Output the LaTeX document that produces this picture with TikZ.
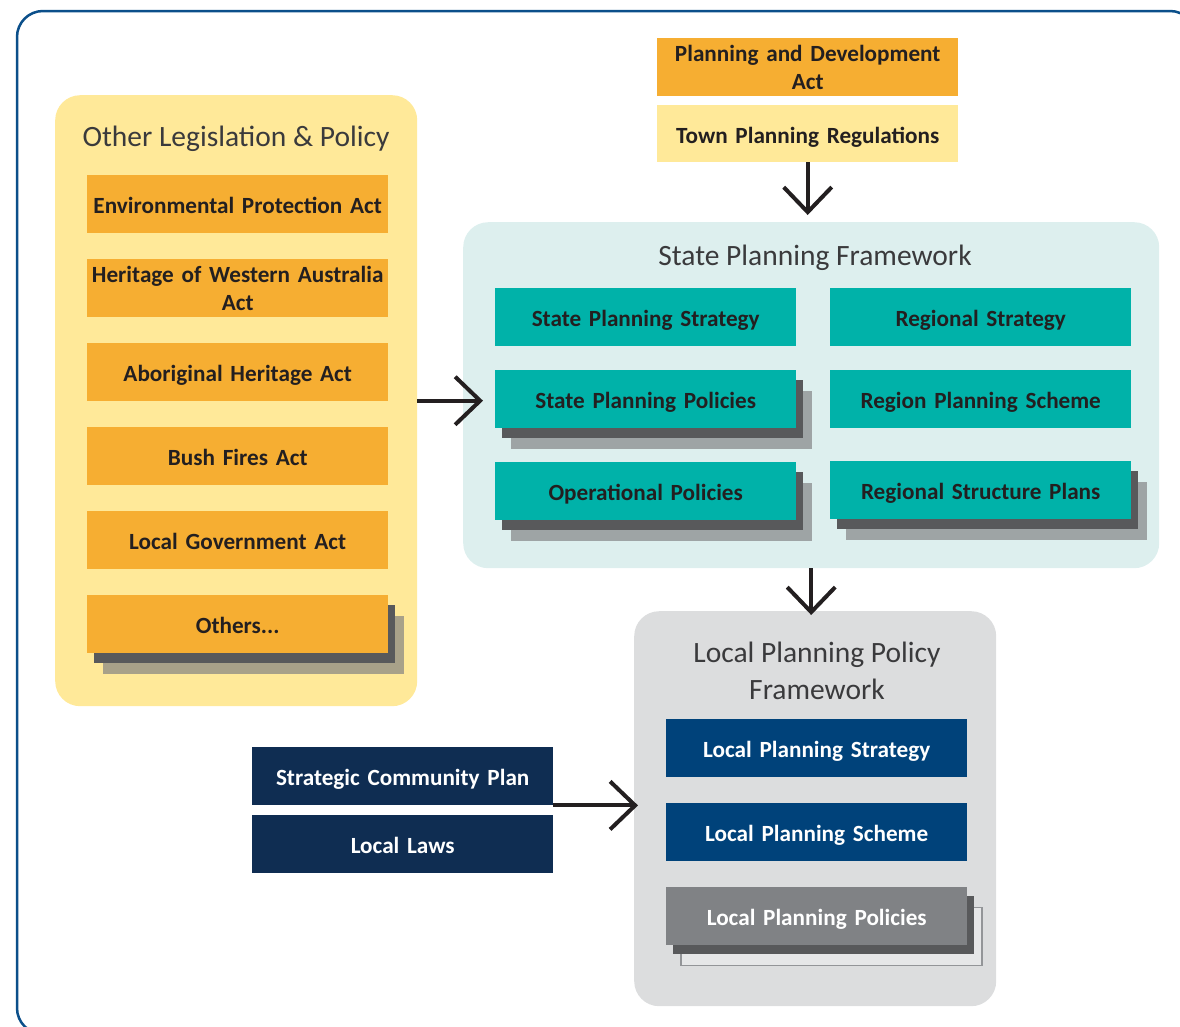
\documentclass[tikz,border=0pt]{standalone}
\usepackage{fontspec}
\setmainfont{Carlito}
\usetikzlibrary{arrows.meta,shadows}
\definecolor{frameblue}{HTML}{0B4F8A}
\definecolor{yelpanel}{HTML}{FFE999}
\definecolor{tealpanel}{HTML}{DDEFEE}
\definecolor{graypanel}{HTML}{DCDDDE}
\definecolor{orangebox}{HTML}{F6AE32}
\definecolor{tealbox}{HTML}{00B2A9}
\definecolor{navybox}{HTML}{00427A}
\definecolor{darknavy}{HTML}{0F2D52}
\definecolor{greybox}{HTML}{808285}
\definecolor{shdark}{HTML}{58595B}
\definecolor{shgray}{HTML}{9EA4A5}
\definecolor{shtan}{HTML}{A8A189}
\definecolor{lightbox}{HTML}{E6E7E8}
\definecolor{lightborder}{HTML}{939598}
\definecolor{txt}{HTML}{231F20}
\definecolor{titletxt}{HTML}{3A3A3C}
\tikzset{
  panel/.style={anchor=north west, rounded corners=25pt, inner sep=0pt},
  ptitle/.style={font=\fontsize{29.5}{37}\selectfont, text=titletxt, align=center, inner sep=0pt},
  box/.style={anchor=north west, minimum width=301pt, minimum height=58pt, inner sep=0pt,
    align=center, text width=298pt, text height=22pt, text depth=3pt,
    font=\bfseries\fontsize{23.2}{28}\selectfont, text=txt},
  twoline/.style={text height=, text depth=},
  obox/.style={box, fill=orangebox},
  tbox/.style={box, fill=tealbox},
  nbox/.style={box, fill=navybox, text=white},
  dnbox/.style={box, fill=darknavy, text=white},
  stacked/.style={general shadow={shadow xshift=15.5pt, shadow yshift=-21pt, fill=#1},
                  general shadow={shadow xshift=7pt, shadow yshift=-9.5pt, fill=shdark}},
  arr/.style={line width=4pt, color=txt, -{Straight Barb[length=25pt, width=48pt]}}
}
\begin{document}
\begin{tikzpicture}[x=1pt,y=-1pt]
\useasboundingbox (0,0) rectangle (1180,1026);
% outer frame
\draw[frameblue, line width=2.5pt, rounded corners=26pt] (17,11) rectangle (1196,1034);

% panels
\node[panel, fill=yelpanel, minimum width=362pt, minimum height=611pt] (olp) at (55,95) {};
\node[panel, fill=tealpanel, minimum width=696pt, minimum height=346pt] (spf) at (463,222) {};
\node[panel, fill=graypanel, minimum width=362pt, minimum height=395pt] (lpf) at (634,611) {};

% titles
\node[ptitle] (olpt) at (236,139) {Other Legislation \& Policy};
\node[ptitle] (spft) at (815,258) {State Planning Framework};
\node[ptitle] (lpft) at (817,671) {Local Planning Policy\\Framework};

% other legislation
\node[obox] (epa) at (87,175) {Environmental Protection Act};
\node[obox, twoline] (hwa) at (87,259) {Heritage of Western Australia\\Act};
\node[obox] (aha) at (87,343) {Aboriginal Heritage Act};
\node[obox] (bfa) at (87,427) {Bush Fires Act};
\node[obox] (lga) at (87,511) {Local Government Act};
\node[obox, stacked=shtan] (oth) at (87,595) {Others...};

% top
\node[obox, twoline] (pda) at (657,38) {Planning and Development\\Act};
\node[box, fill=yelpanel, minimum height=57pt] (tpr) at (657,105) {Town Planning Regulations};

% state planning framework
\node[tbox] (sps) at (495,288) {State Planning Strategy};
\node[tbox] (rs) at (830,288) {Regional Strategy};
\node[tbox, stacked=shgray] (spp) at (495,370) {State Planning Policies};
\node[tbox] (rps) at (830,370) {Region Planning Scheme};
\node[tbox, stacked=shgray] (op) at (495,462) {Operational Policies};
\node[tbox, stacked=shgray] (rsp) at (830,461) {Regional Structure Plans};

% local planning
\node[nbox] (lpst) at (666,719) {Local Planning Strategy};
\node[nbox] (lpsc) at (666,803) {Local Planning Scheme};
\node[box, fill=greybox, text=white,
  general shadow={shadow xshift=15pt, shadow yshift=-20.5pt, fill=lightbox, draw=lightborder, line width=1.5pt},
  general shadow={shadow xshift=7pt, shadow yshift=-9pt, fill=shdark}] (lpp) at (666,887) {Local Planning Policies};

% left navy
\node[dnbox] (scp) at (252,747) {Strategic Community Plan};
\node[dnbox] (ll) at (252,815) {Local Laws};

% arrows
\draw[arr, shorten >=7pt] (tpr.south) -- (tpr.south |- spf.north);
\draw[arr, shorten >=12pt] (olp.east) -- (olp.east -| spp.west);
\draw[arr, shorten >=-4pt] (spf.south) -- (spf.south |- lpf.north);
\draw[arr, shorten >=-4pt] (scp.south east) -- (scp.south east -| lpf.west);
\end{tikzpicture}
\end{document}
